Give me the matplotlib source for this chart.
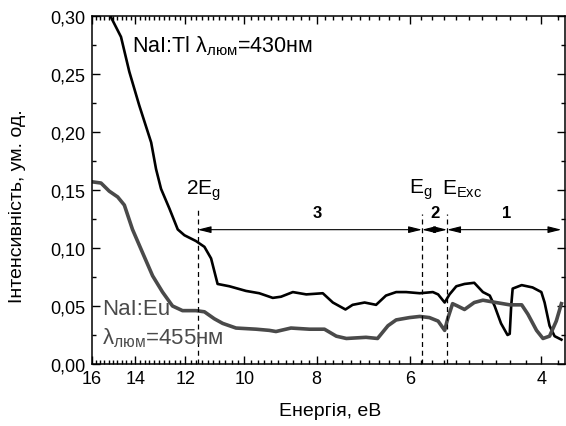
import numpy as np
import matplotlib
matplotlib.use('Agg')
import matplotlib.pyplot as plt
from matplotlib.ticker import FixedLocator, FuncFormatter, MultipleLocator, NullFormatter

plt.rcParams['font.family'] = ['Liberation Sans', 'DejaVu Sans']
plt.rcParams['mathtext.fontset'] = 'custom'
plt.rcParams['mathtext.rm'] = 'Liberation Sans'
plt.rcParams['mathtext.it'] = 'Liberation Sans'
plt.rcParams['mathtext.default'] = 'regular'

# NaI:Tl, luminescence at 430 nm
tl_energy = [15.2, 15.09, 14.63, 14.26, 13.83, 13.33, 13.13, 12.93, 12.60, 12.28, 12.03,
             11.61, 11.31, 11.08, 10.86, 10.47, 9.95, 9.55, 9.16, 8.93, 8.61,
             8.26, 7.85, 7.61, 7.32, 7.16, 6.90, 6.66, 6.46, 6.26, 6.07,
             5.82, 5.59, 5.50, 5.39, 5.31, 5.20, 5.07, 4.92, 4.79, 4.69,
             4.62, 4.53, 4.44, 4.41, 4.39, 4.37, 4.25, 4.11, 4.00, 3.96,
             3.90, 3.84, 3.76]
tl_int = [0.310, 0.299, 0.282, 0.252, 0.223, 0.191, 0.168, 0.151, 0.134, 0.116, 0.111,
          0.106, 0.101, 0.091, 0.069, 0.067, 0.063, 0.061, 0.057, 0.058, 0.062,
          0.060, 0.061, 0.053, 0.047, 0.051, 0.053, 0.051, 0.059, 0.062, 0.062,
          0.061, 0.062, 0.060, 0.053, 0.060, 0.067, 0.069, 0.070, 0.062, 0.059,
          0.050, 0.035, 0.025, 0.026, 0.050, 0.065, 0.068, 0.066, 0.062, 0.053,
          0.033, 0.024, 0.021]

# NaI:Eu, luminescence at 455 nm
eu_energy = [15.97, 15.56, 15.17, 14.78, 14.48, 14.12, 13.69, 13.27, 12.87, 12.48,
             12.10, 11.61, 11.31, 10.97, 10.69, 10.26, 9.64, 9.26, 9.07, 8.66,
             8.18, 7.81, 7.53, 7.30, 6.87, 6.63, 6.42, 6.26, 6.01, 5.82,
             5.65, 5.50, 5.39, 5.34, 5.26, 5.18, 5.07, 4.92, 4.79, 4.60,
             4.41, 4.25, 4.17, 4.06, 3.98, 3.90, 3.82, 3.76]
eu_int = [0.157, 0.156, 0.149, 0.144, 0.137, 0.116, 0.096, 0.076, 0.062, 0.050,
          0.046, 0.046, 0.045, 0.039, 0.035, 0.031, 0.030, 0.029, 0.028, 0.031,
          0.030, 0.030, 0.024, 0.022, 0.023, 0.022, 0.033, 0.038, 0.040, 0.041,
          0.040, 0.037, 0.029, 0.039, 0.052, 0.050, 0.047, 0.053, 0.055, 0.053,
          0.051, 0.051, 0.043, 0.029, 0.022, 0.024, 0.037, 0.052]

# characteristic energies, eV
e_2g = 11.55
e_g = 5.78
e_exc = 5.35
e_end = 3.76

x_ticks = [16, 14, 12, 10, 8, 6, 4]

fig = plt.figure(figsize=(5.66, 4.27), dpi=100)
ax = fig.add_axes([0.1625, 0.1452, 0.8355, 0.815])

ax.plot(tl_energy, tl_int, color='black', lw=1.9)
ax.plot(eu_energy, eu_int, color='#4a4a4a', lw=2.6)

ax.set_xscale('log')
ax.set_xlim(16.0, 3.72)
ax.set_ylim(0, 0.30)

ax.xaxis.set_major_locator(FixedLocator(x_ticks))
ax.xaxis.set_major_formatter(FuncFormatter(lambda v, p: f'{v:g}'))
ax.xaxis.set_minor_locator(FixedLocator(np.arange(3.8, 16.01, 0.2)))
ax.xaxis.set_minor_formatter(NullFormatter())
ax.yaxis.set_major_locator(MultipleLocator(0.05))
ax.yaxis.set_minor_locator(MultipleLocator(0.025))
ax.yaxis.set_major_formatter(FuncFormatter(lambda v, p: f'{v:.2f}'.replace('.', ',')))

ax.tick_params(which='both', direction='in', top=True, right=True, labelsize=13, width=1.0)
ax.tick_params(which='major', length=6, pad=4.5)
ax.tick_params(which='minor', length=3)
for s in ax.spines.values():
    s.set_linewidth(1.1)

ax.set_xlabel('Енергія, еВ', fontsize=14, va='top')
ax.xaxis.set_label_coords(0.503, -0.108)
ax.set_ylabel('Інтенсивність, ум. од.', fontsize=14, va='center')
ax.yaxis.set_label_coords(-0.157, 0.457)

# region boundaries
ax.plot([e_2g, e_2g], [0, 0.134], color='black', lw=0.9, ls=(0, (4, 3)))
ax.plot([e_g, e_g], [0, 0.129], color='black', lw=0.9, ls=(0, (4, 3)))
ax.plot([e_exc, e_exc], [0, 0.129], color='black', lw=0.9, ls=(0, (4, 3)))

arrow_y = 0.1158
aprops = dict(arrowstyle='<|-|>,head_length=0.8,head_width=0.2', color='black',
              lw=0.8, shrinkA=0, shrinkB=0, mutation_scale=10)
for x0, x1 in [(e_2g, e_g), (e_g, e_exc), (e_exc, e_end)]:
    ax.annotate('', xy=(x1, arrow_y), xytext=(x0, arrow_y), arrowprops=aprops)

for lab, xe in [('3', 7.98), ('2', 5.56), ('1', 4.45)]:
    ax.text(xe, 0.131, lab, fontsize=12, fontweight='bold', ha='center', va='center')

ax.text(11.96, 0.150, r'2E$_g$', fontsize=15, ha='left', va='center')
ax.text(6.01, 0.151, r'E$_g$', fontsize=15, ha='left', va='center')
ax.text(5.43, 0.151, r'E$_{Exc}$', fontsize=15, ha='left', va='center')

ax.text(14.13, 0.275, r'NaI:Tl λ$_{люм}$=430нм', fontsize=15.5, ha='left', va='center')
ax.text(15.50, 0.048, 'NaI:Eu', fontsize=16, ha='left', va='center', color='#4a4a4a')
ax.text(15.50, 0.023, r'λ$_{люм}$=455нм', fontsize=16, ha='left', va='center', color='#4a4a4a')

fig.savefig('out.png', dpi=100)
